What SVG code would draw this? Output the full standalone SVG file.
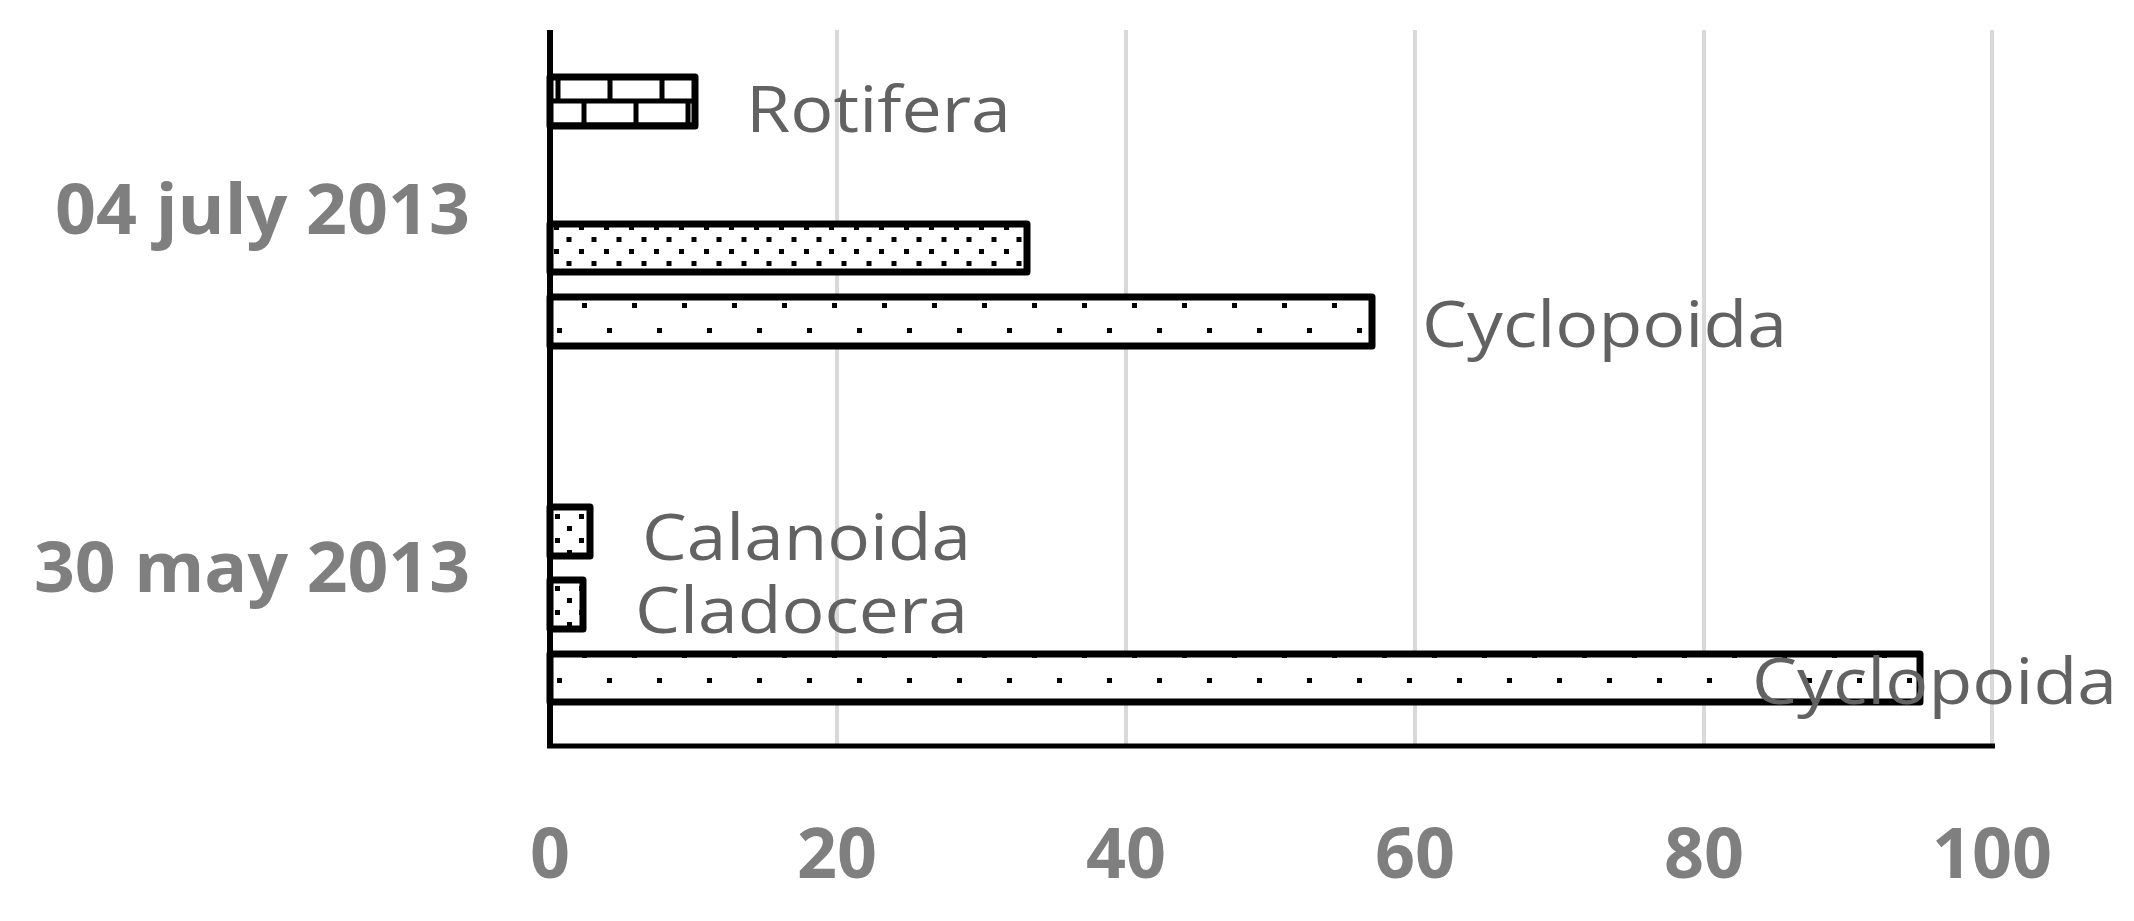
<svg xmlns="http://www.w3.org/2000/svg" width="2134" height="921" viewBox="0 0 2134 921">
<style>
.grid{stroke:#d9d9d9;stroke-width:4}
.bar{stroke:#000;stroke-width:7;stroke-linejoin:round}
.lbl{font-family:"Open Sans","Liberation Sans",sans-serif;font-size:64px;fill:#626262}
.ax{font-family:"Open Sans","Liberation Sans",sans-serif;font-size:70px;font-weight:bold;fill:#7f7f7f}
</style>
<defs>
<pattern id="brick" patternUnits="userSpaceOnUse" x="550" y="77" width="52" height="48">
<rect width="52" height="48" fill="#fff"/>
<path d="M0 24H52M0 48H52M0 0H52M8 0V24M34 24V48" stroke="#000" stroke-width="5"/>
</pattern>
<pattern id="dense" patternUnits="userSpaceOnUse" x="554" y="225" width="25" height="24">
<rect width="25" height="24" fill="#fff"/>
<rect x="0" y="0" width="5" height="5" fill="#000"/>
<rect x="12.5" y="12" width="5" height="5" fill="#000"/>
</pattern>
<pattern id="sparse" patternUnits="userSpaceOnUse" x="557" y="303" width="50" height="50">
<rect width="50" height="50" fill="#fff"/>
<rect x="0" y="25" width="5" height="5" fill="#000"/>
<rect x="25" y="0" width="5" height="5" fill="#000"/>
</pattern>
<pattern id="mid" patternUnits="userSpaceOnUse" x="555" y="514" width="24" height="24">
<rect width="24" height="24" fill="#fff"/>
<rect x="0" y="0" width="5" height="5" fill="#000"/>
<rect x="12" y="12" width="5" height="5" fill="#000"/>
</pattern>
</defs>
<g id="gridlines">
<line class="grid" x1="837" y1="30" x2="837" y2="745"/>
<line class="grid" x1="1126" y1="30" x2="1126" y2="745"/>
<line class="grid" x1="1415" y1="30" x2="1415" y2="745"/>
<line class="grid" x1="1704" y1="30" x2="1704" y2="745"/>
<line class="grid" x1="1992" y1="30" x2="1992" y2="745"/>
</g>
<g id="bars">
<rect id="rotifera" class="bar" x="550" y="77" width="145" height="49" fill="url(#brick)"/>
<rect id="cladocera-july" class="bar" x="550" y="224" width="477" height="48" fill="url(#dense)"/>
<rect id="cyclopoida-july" class="bar" x="550" y="297" width="822" height="49" fill="url(#sparse)"/>
<rect id="calanoida-may" class="bar" x="550" y="507" width="40" height="49" fill="url(#mid)"/>
<rect id="cladocera-may" class="bar" x="550" y="580" width="33" height="49" fill="url(#mid)"/>
<rect id="cyclopoida-may" class="bar" x="550" y="654" width="1370" height="48" fill="url(#sparse)"/>
</g>
<g id="axes">
<line x1="550" y1="30" x2="550" y2="748" stroke="#000" stroke-width="6"/>
<line x1="547" y1="746" x2="1995" y2="746" stroke="#000" stroke-width="5"/>
</g>
<g id="labels">
<text class="lbl" x="746" y="132" textLength="265" lengthAdjust="spacingAndGlyphs">Rotifera</text>
<text class="lbl" x="1422" y="347" textLength="365" lengthAdjust="spacingAndGlyphs">Cyclopoida</text>
<text class="lbl" x="642" y="560" textLength="329" lengthAdjust="spacingAndGlyphs">Calanoida</text>
<text class="lbl" x="635" y="633" textLength="333" lengthAdjust="spacingAndGlyphs">Cladocera</text>
<text class="lbl" x="1752" y="704" textLength="365" lengthAdjust="spacingAndGlyphs">Cyclopoida</text>
</g>
<g id="yaxis-labels">
<text class="ax" x="470" y="234" text-anchor="end" textLength="415" lengthAdjust="spacingAndGlyphs">04 july 2013</text>
<text class="ax" x="470" y="592" text-anchor="end" textLength="436" lengthAdjust="spacingAndGlyphs">30 may 2013</text>
</g>
<g id="xaxis-labels" text-anchor="middle">
<text class="ax" x="550" y="878">0</text>
<text class="ax" x="837" y="878">20</text>
<text class="ax" x="1126" y="878">40</text>
<text class="ax" x="1415" y="878">60</text>
<text class="ax" x="1704" y="878">80</text>
<text class="ax" x="1992" y="878">100</text>
</g>
</svg>
